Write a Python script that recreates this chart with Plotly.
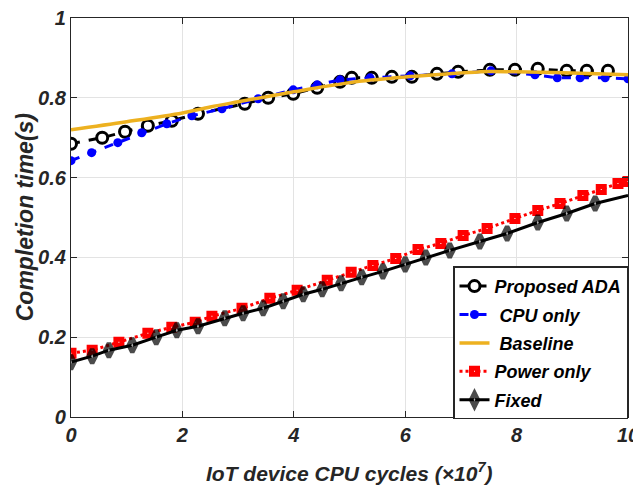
import plotly.graph_objects as go

# Proposed ADA
ada_x = [0, 0.56, 0.97, 1.38, 1.81, 2.28, 3.12, 3.54, 3.99, 4.42, 4.83, 5.04, 5.40, 5.76,
         6.12, 6.57, 6.95, 7.52, 7.97, 8.38, 8.90, 9.26, 9.64]
ada_y = [0.685, 0.70, 0.715, 0.73, 0.7425, 0.76, 0.785, 0.80, 0.81, 0.825, 0.84, 0.85, 0.85,
         0.8525, 0.8525, 0.86, 0.865, 0.87, 0.87, 0.8725, 0.8675, 0.8675, 0.8675]

# CPU only
cpu_x = [0, 0.37, 0.84, 1.27, 1.72, 2.17, 2.71, 3.36, 3.99, 4.42, 4.83, 5.37, 6.09, 6.84,
         7.54, 8.33, 8.73, 9.14, 9.59, 10]
cpu_y = [0.6425, 0.6625, 0.6875, 0.7125, 0.735, 0.755, 0.7725, 0.7975, 0.82, 0.8325, 0.845,
         0.85, 0.855, 0.86, 0.8675, 0.8575, 0.85, 0.85, 0.85, 0.8475]

# Baseline
base_x = [0, 1, 2, 2.5, 3, 4, 5, 6, 7, 7.5, 8, 9, 10]
base_y = [0.72, 0.74, 0.762, 0.777, 0.79, 0.815, 0.838, 0.852, 0.862, 0.866, 0.865, 0.862, 0.858]

# Power only
pow_x = [0, 0.38, 0.86, 1.38, 1.81, 2.23, 2.53, 3.07, 3.57, 4.06, 4.60, 5.03, 5.42, 5.83,
         6.23, 6.64, 7.04, 7.47, 7.97, 8.38, 8.78, 9.19, 9.52, 9.82, 10]
pow_y = [0.16, 0.1675, 0.1875, 0.21, 0.225, 0.2375, 0.2525, 0.2725, 0.2975, 0.3175, 0.3425,
         0.3625, 0.38, 0.3975, 0.42, 0.435, 0.455, 0.4725, 0.4975, 0.5175, 0.535, 0.555,
         0.57, 0.585, 0.59]

# Fixed
fix_x = [0, 0.38, 0.68, 1.10, 1.53, 1.90, 2.28, 2.76, 3.09, 3.45, 3.81, 4.17, 4.51, 4.85,
         5.22, 5.60, 6.00, 6.37, 6.80, 7.34, 7.83, 8.38, 8.90, 9.41, 10]
fix_y = [0.1375, 0.1525, 0.1675, 0.18, 0.20, 0.2175, 0.2275, 0.2475, 0.26, 0.2725, 0.29,
         0.3075, 0.32, 0.335, 0.35, 0.365, 0.3825, 0.40, 0.4175, 0.44, 0.46, 0.4875, 0.51,
         0.535, 0.555]

x_ticks = [0, 2, 4, 6, 8, 10]
y_ticks = [0, 0.2, 0.4, 0.6, 0.8, 1]
y_tick_text = ["0", "0.2", "0.4", "0.6", "0.8", "1"]

x_title = "IoT device CPU cycles (×10<sup>7</sup>)"
y_title = "Completion time(s)"

FONT = "Liberation Sans"
TXT = "#262626"

fig = go.Figure()
fig.add_trace(go.Scatter(
    x=ada_x, y=ada_y, name="Proposed ADA", mode="lines+markers", legendgroup="a",
    line=dict(color="black", width=3, dash="dash"),
    marker=dict(symbol="circle", size=11, color="white", line=dict(color="black", width=3))))
fig.add_trace(go.Scatter(
    x=cpu_x, y=cpu_y, name=" CPU only", mode="lines+markers", legendgroup="b",
    line=dict(color="#0000FF", width=3, dash="dash"),
    marker=dict(symbol="circle", size=9, color="#0000FF")))
fig.add_trace(go.Scatter(
    x=base_x, y=base_y, name=" Baseline", mode="lines", line_shape="spline", legendgroup="c",
    line=dict(color="#EDB120", width=3.5)))
fig.add_trace(go.Scatter(
    x=pow_x, y=pow_y, name="Power only", mode="lines+markers", legendgroup="d",
    line=dict(color="#FF0000", width=3, dash="dot"),
    marker=dict(symbol="square", size=6, color="white", line=dict(color="#FF0000", width=5))))
fix_sizes = [10] * (len(fix_x) - 1) + [0]
fig.add_trace(go.Scatter(
    x=fix_x, y=fix_y, name="Fixed", mode="lines+markers", legendgroup="e",
    line=dict(color="black", width=3),
    marker=dict(symbol="diamond-tall", size=fix_sizes, color="white",
                line=dict(color="black", width=4.5))))

axis_common = dict(
    showline=True, linecolor=TXT, linewidth=1.2, mirror="allticks",
    ticks="inside", ticklen=6, tickcolor=TXT, automargin=False,
    ticklabeloverflow="allow",
    showgrid=True, gridcolor="#E3E3E3", gridwidth=1, zeroline=False,
    tickfont=dict(family=FONT, size=20, color=TXT, weight="bold", style="italic"),
)

fig.update_xaxes(range=[0, 10], tickvals=x_ticks, ticktext=[str(v) for v in x_ticks],
                 **axis_common)
fig.update_yaxes(range=[0, 1], tickvals=y_ticks, ticktext=y_tick_text, **axis_common)

fig.add_annotation(text=x_title, xref="paper", yref="paper", x=0.5, y=-0.1,
                   xanchor="center", yanchor="top", showarrow=False,
                   font=dict(family=FONT, size=21, color=TXT, weight="bold", style="italic"))
fig.add_annotation(text=y_title, xref="paper", yref="paper", x=-0.083, y=0.5,
                   xanchor="center", yanchor="middle", showarrow=False, textangle=-90,
                   font=dict(family=FONT, size=23, color=TXT, weight="bold", style="italic"))

# The page body has an 8px default margin, so the figure is sized to fit inside the window.
fig.update_layout(
    width=633, height=490,
    margin=dict(l=63, r=13, t=10, b=81, autoexpand=False),
    paper_bgcolor="white", plot_bgcolor="white",
    showlegend=True,
    legend=dict(x=1, y=-0.006, xanchor="right", yanchor="bottom",
                bgcolor="white", bordercolor="#262626", borderwidth=1.5,
                font=dict(family=FONT, size=18, color="black", weight="bold", style="italic"),
                itemwidth=30, tracegroupgap=2),
)

fig.write_html("out.html")
